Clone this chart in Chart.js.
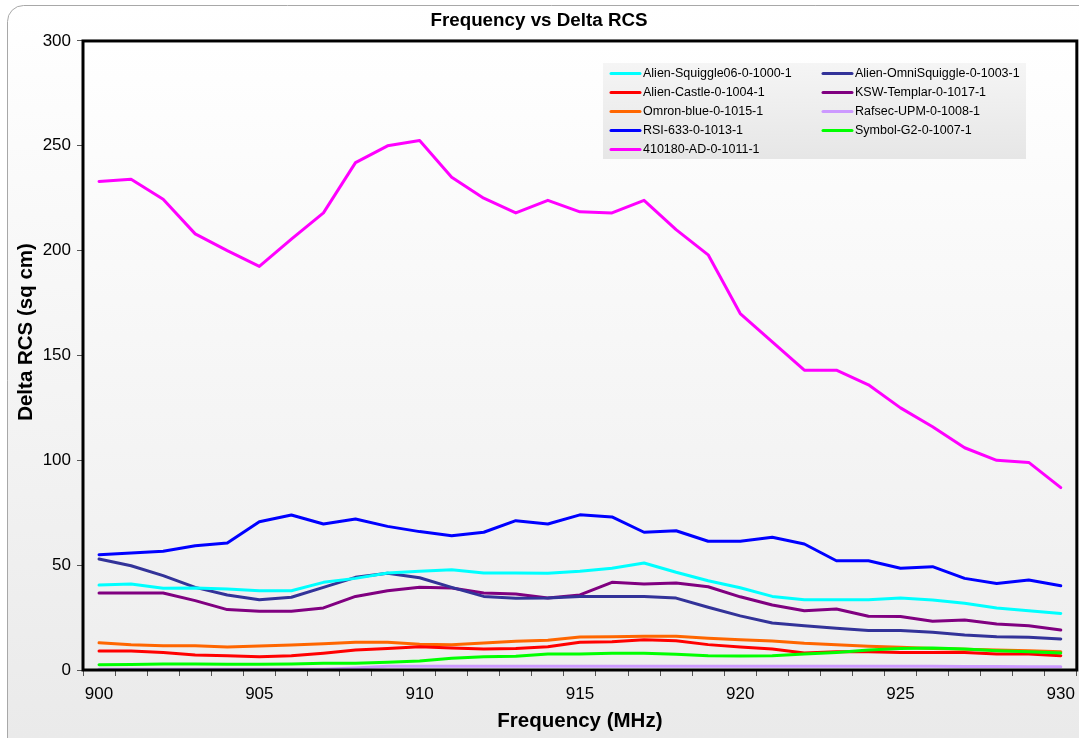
<!DOCTYPE html>
<html>
<head>
<meta charset="utf-8">
<script src="https://cdn.jsdelivr.net/npm/chart.js@4/dist/chart.umd.min.js"></script>
<style>
  html, body { margin: 0; padding: 0; background: #ffffff; }
  #wrap { width: 1079px; height: 738px; }
</style>
</head>
<body>
<div id="wrap"><canvas id="c" width="1079" height="738"></canvas></div>
<script>
// ---- Data ----
const frequencies = [900,901,902,903,904,905,906,907,908,909,910,911,912,913,914,915,916,917,918,919,920,921,922,923,924,925,926,927,928,929,930];

const seriesNames = [
  "Alien-Squiggle06-0-1000-1",
  "Alien-OmniSquiggle-0-1003-1",
  "Alien-Castle-0-1004-1",
  "KSW-Templar-0-1017-1",
  "Omron-blue-0-1015-1",
  "Rafsec-UPM-0-1008-1",
  "RSI-633-0-1013-1",
  "Symbol-G2-0-1007-1",
  "410180-AD-0-1011-1"
];

const alienSquiggle06 = [40.5,41,39,39.1,38.6,37.8,37.8,41.8,43.7,46.3,47.1,47.8,46.3,46.3,46.1,47.1,48.5,51,46.6,42.6,39.2,35.1,33.5,33.5,33.5,34.3,33.4,31.8,29.6,28.3,27];
const alienOmniSquiggle = [52.9,49.7,45,39.4,35.8,33.5,34.7,39.4,44.2,46.1,44,39.4,35.1,34.2,34.3,35,35,35,34.3,29.9,25.8,22.4,21.1,19.9,18.8,18.8,18,16.7,15.9,15.6,14.8];
const alienCastle = [9.1,9.1,8.4,7.2,6.8,6.3,6.8,8,9.5,10.3,11.1,10.5,10,10.3,11.1,13.2,13.5,14.4,14,12.1,11,10,8.1,8.7,8.7,8.4,8.4,8.4,7.6,7.6,6.8];
const kswTemplar = [36.7,36.7,36.7,33.1,28.8,28,28,29.6,35.1,37.8,39.5,39.1,36.7,36.2,34.3,35.8,41.8,41,41.5,39.7,34.9,31,28.3,29.1,25.6,25.5,23.2,23.8,21.9,21.1,19.1];
const omronBlue = [13,12.1,11.6,11.6,11,11.4,11.9,12.5,13.2,13.2,12.3,12.1,12.9,13.7,14.2,15.7,15.9,16.1,16.1,15.1,14.4,13.8,12.7,12.1,11.3,10.8,10.3,9.9,9.5,9.2,8.7];
const rafsecUPM = [0.3,0.3,0.3,0.3,0.3,0.3,0.3,0.4,1.0,1.8,1.8,1.8,1.8,1.8,1.8,1.8,1.8,1.8,1.8,1.8,1.8,1.8,1.8,1.8,1.8,1.8,1.8,1.7,1.7,1.6,1.6];
const rsi633 = [55,55.8,56.6,59.3,60.6,70.7,73.9,69.6,72,68.5,66,64,65.7,71.2,69.6,74,73,65.7,66.4,61.4,61.4,63.3,60.1,52.1,52.1,48.5,49.3,43.7,41.3,42.9,40.2];
const symbolG2 = [2.5,2.6,2.9,2.9,2.8,2.8,2.9,3.2,3.2,3.7,4.3,5.6,6.3,6.5,7.6,7.6,8,8,7.5,6.8,6.7,6.8,7.6,8.4,9.5,10.3,10.5,10,9.2,8.7,8.1];
const ad410180 = [233,234,224.5,208,200,192.5,205.5,218,242,250,252.5,235,225,218,224,218.5,218,224,210,198,170,156.5,143,143,136,125,116,106,100,99,87];

const yTicks = [0,50,100,150,200,250,300];
const xLabelEvery = [900,905,910,915,920,925,930];
const yTitleText = 'Delta RCS (sq cm)';

const seriesValues = [alienSquiggle06, alienOmniSquiggle, alienCastle, kswTemplar, omronBlue, rafsecUPM, rsi633, symbolG2, ad410180];
const seriesColors = ["#00FFFF","#333399","#FF0000","#800080","#FF6600","#CC99FF","#0000FF","#00FF00","#FF00FF"];
const seriesOrder = [3,4,5,4,6,8,2,1,0];

const FONT = "'Liberation Sans', Arial, Helvetica, sans-serif";

const datasets = seriesNames.map((name, i) => ({
  label: name,
  data: seriesValues[i],
  borderColor: seriesColors[i],
  backgroundColor: seriesColors[i],
  borderWidth: 3,
  pointRadius: 0,
  pointHoverRadius: 0,
  tension: 0,
  fill: false,
  borderJoinStyle: 'round',
  borderCapStyle: 'round',
  order: seriesOrder[i]
}));

const backgroundPlugin = {
  id: 'bgPlugin',
  beforeDraw(chart) {
    const ctx = chart.ctx;
    const W = chart.width, H = chart.height;
    ctx.save();
    ctx.fillStyle = '#ffffff';
    ctx.fillRect(0, 0, W, H);
    const g = ctx.createLinearGradient(0, 5, 0, H);
    g.addColorStop(0, '#ffffff');
    g.addColorStop(1, '#eaeaea');
    ctx.beginPath();
    ctx.roundRect(7.5, 5.5, W + 20, H + 20, 16);
    ctx.fillStyle = g;
    ctx.fill();
    ctx.strokeStyle = '#a8a8a8';
    ctx.lineWidth = 1;
    ctx.stroke();
    const a = chart.chartArea;
    const g2 = ctx.createLinearGradient(0, a.top, 0, a.bottom);
    g2.addColorStop(0, '#ffffff');
    g2.addColorStop(1, '#eeeeee');
    ctx.fillStyle = g2;
    ctx.fillRect(a.left, a.top, a.right - a.left, a.bottom - a.top);
    ctx.restore();
  },
  afterDraw(chart) {
    const ctx = chart.ctx;
    const a = chart.chartArea;
    ctx.save();
    // plot area frame
    ctx.strokeStyle = '#000000';
    ctx.lineWidth = 3;
    ctx.strokeRect(a.left, a.top, a.right - a.left, a.bottom - a.top);
    // y axis title
    ctx.save();
    ctx.translate(26, 332);
    ctx.rotate(-Math.PI / 2);
    ctx.font = "bold 20.5px " + FONT;
    ctx.fillStyle = '#000000';
    ctx.textAlign = 'center';
    ctx.textBaseline = 'middle';
    ctx.fillText(yTitleText, 0, 0);
    ctx.restore();
    // legend box
    const bx = 603, by = 63, bw = 423, bh = 96;
    const lg = ctx.createLinearGradient(0, by, 0, by + bh);
    lg.addColorStop(0, '#f5f5f5');
    lg.addColorStop(1, '#e6e6e6');
    ctx.fillStyle = lg;
    ctx.fillRect(bx, by, bw, bh);
    ctx.font = "12.5px " + FONT;
    ctx.textBaseline = 'middle';
    ctx.textAlign = 'left';
    const colX = [610, 822];
    const rowY = [73.5, 92.5, 111.5, 130.5, 149.5];
    chart.data.datasets.forEach((ds, i) => {
      const col = i % 2, row = Math.floor(i / 2);
      const x = colX[col], y = rowY[row];
      ctx.strokeStyle = ds.borderColor;
      ctx.lineWidth = 3;
      ctx.lineCap = 'round';
      ctx.beginPath();
      ctx.moveTo(x + 1, y);
      ctx.lineTo(x + 30, y);
      ctx.stroke();
      ctx.fillStyle = '#000000';
      ctx.fillText(ds.label, x + 33, y + 0.5);
    });
    ctx.restore();
  }
};

new Chart(document.getElementById('c'), {
  type: 'line',
  data: { labels: frequencies.map(String), datasets },
  plugins: [backgroundPlugin],
  options: {
    responsive: false,
    devicePixelRatio: 1,
    animation: false,
    events: [],
    layout: { padding: { top: 0, left: 0, right: 1, bottom: 0 } },
    plugins: {
      legend: { display: false },
      tooltip: { enabled: false },
      title: {
        display: true,
        text: 'Frequency vs Delta RCS',
        color: '#000000',
        font: { family: FONT, size: 18.8, weight: 'bold' },
        padding: { top: 10, bottom: 8.4 }
      }
    },
    scales: {
      x: {
        type: 'category',
        offset: true,
        border: { display: false },
        grid: { offset: true, drawOnChartArea: false, drawTicks: true, tickLength: 6, color: '#555555', lineWidth: 1 },
        ticks: {
          autoSkip: false, maxRotation: 0, minRotation: 0,
          color: '#000000', font: { family: FONT, size: 17, lineHeight: 1.67 }, padding: 4,
          callback: function (value, index) {
            const f = frequencies[index];
            return xLabelEvery.includes(f) ? String(f) : '';
          }
        },
        title: {
          display: true, text: 'Frequency (MHz)', color: '#000000',
          font: { family: FONT, size: 20.5, weight: 'bold' },
          padding: { top: 0, bottom: 4.6 }
        },
        afterFit(scale) { scale.height = 68; }
      },
      y: {
        min: yTicks[0], max: yTicks[yTicks.length - 1],
        border: { display: false },
        grid: { drawOnChartArea: false, drawTicks: true, tickLength: 6, color: '#555555', lineWidth: 1 },
        afterBuildTicks(scale) { scale.ticks = yTicks.map(v => ({ value: v })); },
        ticks: { color: '#000000', font: { family: FONT, size: 17 }, padding: 6 },
        title: { display: false },
        afterFit(scale) { scale.width = 83; }
      }
    }
  }
});
</script>
</body>
</html>
